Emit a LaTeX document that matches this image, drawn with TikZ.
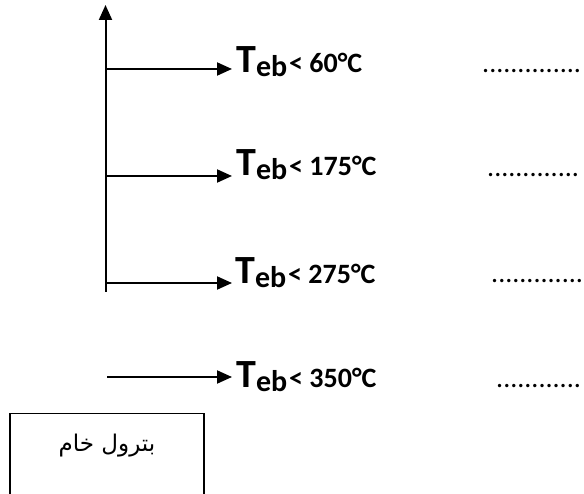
\documentclass[tikz,border=0pt]{standalone}
\usepackage{fontspec}
\setmainfont{Carlito}
\newfontfamily\arabicfont[Script=Arabic]{DejaVu Sans}
\TeXXeTstate=1
\usetikzlibrary{arrows.meta}
\newcommand{\tebtext}[1]{{\bfseries\fontsize{40}{40}\selectfont T}\raisebox{-3.5pt}{\bfseries\fontsize{30}{30}\selectfont eb}\kern2pt{\bfseries\fontsize{28}{28}\selectfont <\ #1°C}}
\tikzset{
  arr/.style={line width=2pt,-{Triangle[length=15pt,width=13pt]}},
  lbl/.style={inner sep=0pt,anchor=base west},
  dotrow/.style={inner sep=0pt,anchor=base west,font=\fontsize{28}{28}\selectfont},
  box/.style={draw,line width=1.3pt,anchor=north,inner sep=0pt,minimum width=194pt,minimum height=120pt}
}
\begin{document}
\begin{tikzpicture}[x=1pt,y=-1pt]
\useasboundingbox (0,0) rectangle (584,494);
\clip (0,0) rectangle (584,494);
% axis
\coordinate (vb) at (105.5,292);
\coordinate (vt) at (105.5,5);
\draw[arr] (vb) -- (vt);
% labels
\node[lbl] (t1) at (236,73) {\tebtext{60}};
\node[lbl] (t2) at (236,176) {\tebtext{175}};
\node[lbl] (t3) at (235,284) {\tebtext{275}};
\node[lbl] (t4) at (236,388) {\tebtext{350}};
% dotted answers
\node[dotrow] (d1) at (482,73) {..............};
\node[dotrow] (d2) at (487,177) {.............};
\node[dotrow] (d3) at (491,283) {.............};
\node[dotrow] (d4) at (496,388) {............};
% branches
\coordinate (b1) at (105.5,69);
\coordinate (b2) at (105.5,176);
\coordinate (b3) at (105.5,283);
\coordinate (b4) at (107,377);
\draw[arr] (b1) -- ([xshift=-4pt]t1.west |- b1);
\draw[arr] (b2) -- ([xshift=-4pt]t2.west |- b2);
\draw[arr] (b3) -- ([xshift=-3pt]t3.west |- b3);
\draw[arr] (b4) -- ([xshift=-4pt]t4.west |- b4);
% crude oil box
\node[box] (crude) at (107,413) {};
\node[inner sep=0pt,anchor=base,font=\arabicfont\fontsize{23}{23}\selectfont] (crudelbl) at ([yshift=-38pt]crude.north) {\beginR بترول خام\endR};
\end{tikzpicture}
\end{document}
